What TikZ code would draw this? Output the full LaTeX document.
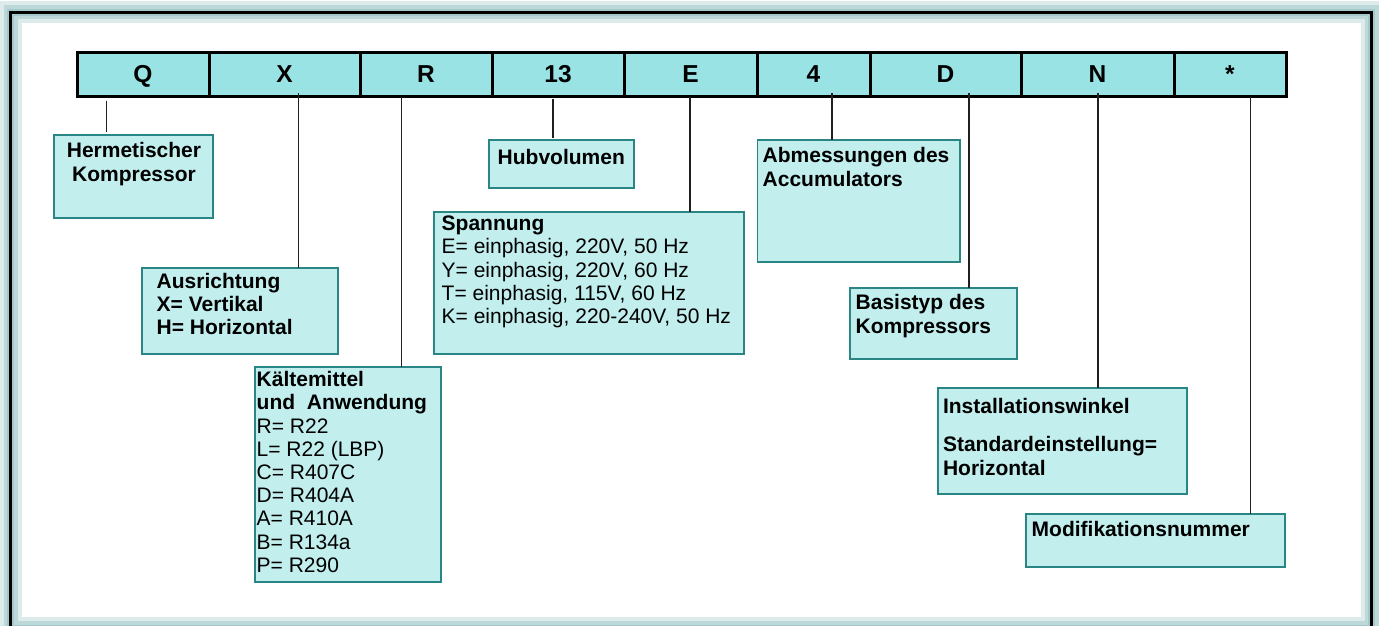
\documentclass[tikz,border=0pt]{standalone}
\usepackage{fontspec}
\setmainfont{Liberation Sans}
\definecolor{hdr}{HTML}{99E3E5}
\definecolor{boxfill}{HTML}{C2EEEE}
\definecolor{boxline}{HTML}{2A8585}
\definecolor{glow}{HTML}{8FBDBF}
\definecolor{conncol}{HTML}{202020}
\newcommand{\hdrfont}{\fontsize{24.5}{26}\selectfont\bfseries}
\newcommand{\lblfont}{\fontsize{21}{23.2}\selectfont}
\begin{document}
\begin{tikzpicture}[x=1pt,y=-1pt,
  cell/.style={draw=black, line width=3pt, fill=hdr, minimum height=44, outer sep=0, inner sep=0,
    font=\hdrfont, text height=17.6pt, text depth=0pt, anchor=west},
  lbox/.style={draw=boxline, line width=1.5pt, fill=boxfill, outer sep=0, inner sep=0, anchor=north west},
  txt/.style={inner sep=0, outer sep=0, font=\lblfont, align=left, anchor=base west},
  conn/.style={draw=conncol, line width=1.5pt}]
\useasboundingbox (0,0) rectangle (1379,625);
\clip (0,0) rectangle (1379,625);
\fill[white] (0,0) rectangle (1379,625);
% frame with glow
\draw[glow, line width=22pt, opacity=.30] (10.5,12) rectangle (1371.5,628);
\draw[glow, line width=14pt, opacity=.40] (10.5,12) rectangle (1371.5,628);
\draw[glow, line width=7pt, opacity=.55] (10.5,12) rectangle (1371.5,628);
\draw[black, line width=3pt] (10.5,12) rectangle (1371.5,628);
% header cells
\node[cell, minimum width=132] (cQ) at (77,74) {Q};
\node[cell, minimum width=151] (cX) at (209,74) {X};
\node[cell, minimum width=132] (cR) at (360,74) {R};
\node[cell, minimum width=132] (c13) at (492,74) {13};
\node[cell, minimum width=133] (cE) at (624,74) {E};
\node[cell, minimum width=113] (c4) at (757,74) {4};
\node[cell, minimum width=151] (cD) at (870,74) {D};
\node[cell, minimum width=153] (cN) at (1021,74) {N};
\node[cell, minimum width=112] (cS) at (1174,74) {*};
% label boxes
\node[lbox, minimum width=159, minimum height=83] (bQ) at (54,135) {};
\node[lbox, minimum width=196, minimum height=86] (bX) at (142,268) {};
\node[lbox, minimum width=186, minimum height=215] (bR) at (255,367) {};
\node[lbox, minimum width=145, minimum height=48] (b13) at (489,140) {};
\node[lbox, minimum width=310, minimum height=142] (bE) at (434,212) {};
\node[lbox, minimum width=202.5, minimum height=122] (b4) at (757.5,140) {};
\node[lbox, minimum width=167, minimum height=71] (bD) at (850,288) {};
\node[lbox, minimum width=249, minimum height=106] (bN) at (938,388) {};
\node[lbox, minimum width=259, minimum height=53] (bS) at (1026,514) {};
% texts (multi-line nodes: base = last line)
\node[txt, align=center, anchor=base] (tQ) at (134,181) {\bfseries Hermetischer\\\bfseries Kompressor};
\node[txt] (tX) at (156.7,334.4) {\bfseries Ausrichtung\\\bfseries X= Vertikal\\\bfseries H= Horizontal};
\node[txt] (tR) at (256.7,572.3) {\bfseries Kältemittel\\\bfseries und~ Anwendung\\R= R22\\L= R22 (LBP)\\C= R407C\\D= R404A\\A= R410A\\B= R134a\\P= R290};
\node[txt] (t13) at (497.7,164) {\bfseries Hubvolumen};
\node[txt] (tE) at (441.7,323.5) {\bfseries Spannung\\E= einphasig, 220V, 50 Hz\\Y= einphasig, 220V, 60 Hz\\T= einphasig, 115V, 60 Hz\\K= einphasig, 220-240V, 50 Hz};
\node[txt] (t4) at (762.7,186) {\bfseries Abmessungen des\\\bfseries Accumulators};
\node[txt] (tD) at (855.7,333) {\bfseries Basistyp des\\\bfseries Kompressors};
\node[txt] (tN) at (943,475) {\bfseries Installationswinkel\\[15.2pt]\bfseries Standardeinstellung=\\\bfseries Horizontal};
\node[txt] (tS) at (1031.7,536.7) {\bfseries Modifikationsnummer};
% connector x positions
\coordinate (xQ) at (106.7,0);
\coordinate (xX) at (298.5,0);
\coordinate (xR) at (401.7,0);
\coordinate (x13) at (553,0);
\coordinate (xE) at (690,0);
\coordinate (x4) at (832,0);
\coordinate (xD) at (969,0);
\coordinate (xN) at (1098,0);
\coordinate (xS) at (1250.7,0);
% connectors
\draw[conn] ([yshift=-4.7pt]cQ.south -| xQ) -- ([yshift=3pt]bQ.north -| xQ);
\draw[conn] ([yshift=3pt]cX.south -| xX) -- (bX.north -| xX);
\draw[conn] ([yshift=-1pt]cR.south -| xR) -- (bR.north -| xR);
\draw[conn] ([yshift=-3pt]c13.south -| x13) -- ([yshift=2pt]b13.north -| x13);
\draw[conn] ([yshift=-1pt]cE.south -| xE) -- (bE.north -| xE);
\draw[conn] ([yshift=3pt]c4.south -| x4) -- (b4.north -| x4);
\draw[conn] ([yshift=3pt]cD.south -| xD) -- (bD.north -| xD);
\draw[conn] ([yshift=3pt]cN.south -| xN) -- (bN.north -| xN);
\draw[conn] ([yshift=-1pt]cS.south -| xS) -- (bS.north -| xS);
\end{tikzpicture}
\end{document}
